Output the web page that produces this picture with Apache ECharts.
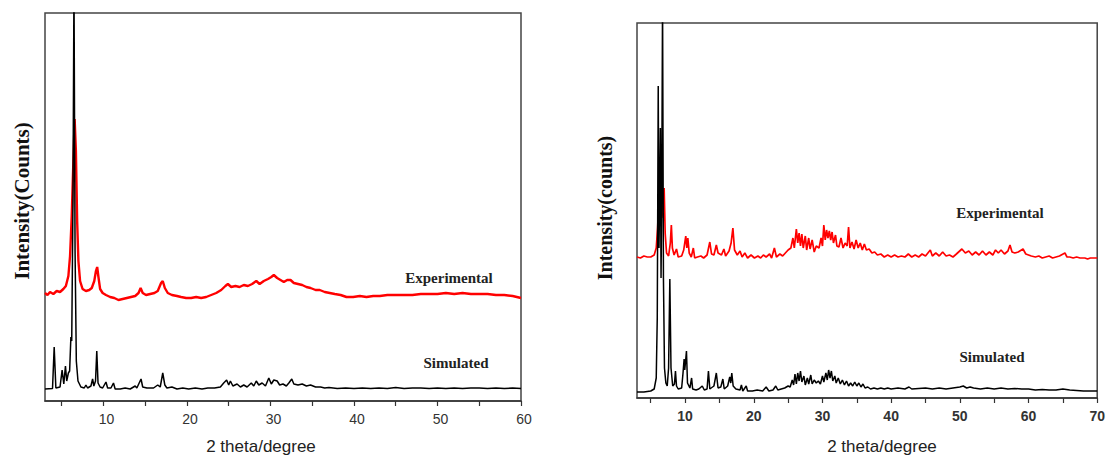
<!DOCTYPE html>
<html><head><meta charset="utf-8">
<script src="https://cdn.jsdelivr.net/npm/echarts@6/dist/echarts.min.js"></script>
<style>html,body{margin:0;padding:0;background:#fff}#c{width:1108px;height:457px}</style>
</head><body><div id="c"></div>
<script>
// ---- Left panel (2theta, relative intensity) ----
const leftTickValues = [5,10,15,20,25,30,35,40,45,50,55,60];
const leftLabelValues = [10,20,30,40,50,60];
const leftSimulated = [[3,12],[3.9,12.5],[4.1,54],[4.3,13],[4.8,14],[5.05,31],[5.25,17],[5.45,35],[5.6,20],[5.8,28],[5.95,30],[6.1,64],[6.2,60],[6.35,200],[6.47,420],[6.6,150],[6.75,40],[6.95,20],[7.3,14],[7.7,13],[7.9,16],[8.1,13],[8.5,15],[8.7,22],[8.85,15],[9.05,20],[9.2,50],[9.35,18],[9.6,14],[9.9,13],[10.3,19],[10.5,13],[10.9,13],[11.2,18],[11.4,12],[12,12],[12.6,13],[13.2,12],[13.8,15],[14.0,13],[14.5,22],[14.7,14],[15.2,13],[16.0,13],[16.5,16],[16.8,14],[17.1,28],[17.35,16],[17.6,13],[18.2,14],[18.8,12],[19.5,13],[20.2,12],[21,13],[21.8,12],[22.5,13],[23.3,13],[24.0,14],[24.4,18],[24.75,21],[25.0,16],[25.2,20],[25.5,15],[26.0,17],[26.4,14],[26.8,16],[27.2,14],[27.7,18],[28.0,15],[28.3,20],[28.6,16],[29.0,18],[29.4,15],[29.8,23],[30.1,17],[30.4,21],[30.8,20],[31.1,16],[31.5,17],[31.9,15],[32.2,18],[32.55,22],[32.8,17],[33.3,16],[33.8,17],[34.3,15],[34.8,16],[35.4,14],[36,14],[36.5,13],[37,13.5],[38,12.5],[39,13],[40,12.5],[41,13],[42,12.5],[43,13],[44,12.5],[45,13.5],[46,12.5],[47,13],[48,13],[49,12.5],[50,13],[51,12.5],[52,13],[53,12.5],[54,13],[55,13],[56,12.5],[57,13],[58,12.5],[59,13],[60,12.5]];
const leftExperimental = [[3,108],[3.3,106],[3.6,109],[4.0,107],[4.4,110],[4.8,109],[5.2,112],[5.5,115],[5.8,125],[6.0,145],[6.2,185],[6.4,240],[6.55,282],[6.7,250],[6.85,180],[7.0,140],[7.2,120],[7.5,112],[7.9,110],[8.3,111],[8.6,113],[8.9,120],[9.1,130],[9.25,134],[9.4,124],[9.6,112],[9.9,108],[10.3,106],[10.8,104],[11.3,103],[11.8,101],[12.3,102],[12.8,103],[13.3,104],[13.8,105],[14.2,108],[14.45,113],[14.7,108],[15.1,106],[15.6,107],[16.1,108],[16.5,110],[16.9,118],[17.1,120],[17.35,113],[17.7,108],[18.2,106],[18.8,105],[19.3,104],[19.9,103],[20.5,103],[21.1,104],[21.7,103],[22.3,104],[22.9,106],[23.5,108],[24.1,111],[24.6,115],[24.9,117],[25.3,114],[25.8,115],[26.3,114],[26.8,116],[27.3,115],[27.8,117],[28.3,120],[28.7,117],[29.2,120],[29.7,122],[30.1,124],[30.4,126],[30.8,123],[31.2,121],[31.6,119],[32.0,121],[32.4,121],[32.8,118],[33.3,117],[33.8,116],[34.3,114],[34.8,113],[35.4,111],[35.9,111],[36.5,109],[37.1,108],[37.7,107],[38.4,106],[39.1,104],[39.9,104],[40.7,105],[41.5,104],[42.3,105],[43.1,105],[44,106],[45,106],[46,106],[47,106],[48,107],[49,107],[50,107],[51,108],[52,107],[53,108],[54,107],[55,107],[56,107],[57,106],[58,106],[59,105],[60,103]];

// ---- Right panel ----
const rightTickValues = [5,10,15,20,25,30,35,40,45,50,55,60,65,70];
const rightLabelValues = [10,20,30,40,50,60,70];
const rightSimulated = [[3,6],[4,6],[5,7],[5.5,9],[5.8,20],[5.95,80],[6.09,312],[6.2,150],[6.3,200],[6.4,270],[6.5,120],[6.6,200],[6.72,400],[6.85,120],[7.0,30],[7.2,15],[7.4,12],[7.6,30],[7.78,119],[7.95,30],[8.2,12],[8.45,14],[8.6,27],[8.75,12],[9.0,9],[9.5,10],[9.7,25],[9.86,39],[9.95,28],[10.05,35],[10.2,47],[10.35,15],[10.7,10],[10.95,20],[11.1,9],[11.6,8],[12.0,9],[12.5,12],[12.8,8],[13.2,9],[13.4,27],[13.6,9],[14.2,12],[14.55,25],[14.8,10],[15.2,11],[15.5,19],[15.7,9],[16.2,12],[16.5,21],[16.65,15],[16.8,25],[17.0,12],[17.4,9],[18.0,8],[18.2,13],[18.4,7],[18.9,12],[19.1,7],[19.8,7],[20.5,8],[21.3,7],[21.8,11],[22.2,7],[22.8,8],[23.2,12],[23.5,8],[24.0,9],[24.5,10],[25.0,12],[25.3,11],[25.6,18],[25.8,13],[26.0,24],[26.2,14],[26.4,25],[26.6,17],[26.8,27],[27.0,16],[27.3,22],[27.5,13],[27.8,20],[28.0,14],[28.3,23],[28.5,14],[28.8,18],[29.1,15],[29.4,17],[29.7,14],[30.0,22],[30.2,16],[30.5,25],[30.7,18],[30.9,28],[31.1,20],[31.3,27],[31.5,17],[31.8,22],[32.0,15],[32.3,20],[32.6,14],[32.9,18],[33.2,13],[33.5,17],[33.8,12],[34.1,15],[34.4,12],[34.7,16],[35.0,12],[35.3,15],[35.6,11],[35.9,14],[36.2,10],[36.6,11],[37.0,9],[37.5,10],[38,9],[38.5,10],[39,9],[39.5,10],[40,9],[41,10],[42,9],[42.6,11],[43,9],[44,9.5],[45,10],[46,9],[47,10],[48,9],[49,10],[50,11],[50.5,12],[51,10],[51.5,11],[52,10],[53,9],[54,10],[55,9],[56,10],[57,9],[58,9.5],[59,9],[60,9],[61,8],[62,8.5],[63,8],[64,8],[65,9],[66,8],[67,7.5],[68,7],[69,7],[70,7]];
const rightExperimental = [[3,141],[3.5,140],[4,142],[4.5,141],[5,141],[5.5,143],[5.8,150],[6.0,170],[6.2,200],[6.43,234],[6.6,180],[6.8,190],[6.95,210],[7.1,165],[7.3,145],[7.6,142],[7.85,155],[8.0,173],[8.15,150],[8.4,143],[8.75,149],[9.0,141],[9.5,142],[9.8,148],[10.1,162],[10.25,150],[10.4,160],[10.6,145],[10.9,141],[11.2,150],[11.4,140],[11.8,141],[12.3,142],[12.7,140],[13.2,143],[13.6,156],[13.85,144],[14.2,143],[14.55,153],[14.8,145],[15.3,143],[15.65,149],[15.9,142],[16.4,147],[16.7,155],[16.96,170],[17.2,148],[17.6,143],[18.0,147],[18.3,141],[18.7,145],[19.1,140],[19.6,143],[20.1,140],[20.6,142],[21.0,140],[21.4,143],[21.8,141],[22.3,144],[22.6,140],[23.0,150],[23.3,141],[23.8,144],[24.2,142],[24.6,145],[25.0,148],[25.4,150],[25.7,160],[25.9,150],[26.2,169],[26.4,155],[26.6,165],[26.8,152],[27.0,164],[27.2,150],[27.5,162],[27.7,148],[28.0,160],[28.2,149],[28.5,158],[28.8,146],[29.1,152],[29.5,150],[29.8,160],[30.0,152],[30.2,173],[30.4,158],[30.6,168],[30.8,160],[31.0,167],[31.2,158],[31.4,166],[31.6,155],[31.9,163],[32.1,152],[32.4,151],[32.7,160],[33.0,150],[33.3,155],[33.6,152],[33.8,171],[34.0,150],[34.3,156],[34.6,149],[34.9,158],[35.2,150],[35.5,155],[35.8,148],[36.1,154],[36.4,148],[36.8,149],[37.2,145],[37.6,146],[38.0,143],[38.5,144],[39.0,141],[39.5,143],[40,141],[40.5,143],[41,141],[41.5,142],[42,141],[42.5,144],[43,141],[43.5,143],[44,141],[44.5,144],[45,142],[45.7,148],[46,142],[46.5,145],[47,142],[47.5,146],[48,142],[48.5,143],[49,141],[49.5,144],[50.3,149],[50.8,145],[51.3,147],[51.8,143],[52.3,146],[52.8,143],[53.3,147],[53.8,143],[54.3,146],[54.8,143],[55.2,148],[55.6,145],[56,148],[56.5,144],[57,147],[57.3,153],[57.6,146],[58,145],[58.5,146],[59.2,149],[59.6,144],[60.0,143],[60.4,142],[61,141],[61.5,142],[62,140],[62.5,141],[63,142],[63.5,140],[64,141],[64.5,142],[65.3,145],[65.6,141],[66,141],[66.5,140],[67,141],[67.5,140],[68.2,140],[68.6,139],[69,140],[69.5,140],[70,140]];

const chart = echarts.init(document.getElementById('c'), null, {renderer: 'svg'});

function xAxisCfg(idx, max, ticks, labels, bold, pad) {
  return {
    gridIndex: idx, type: 'value', min: 3, max: max,
    axisLine: {show: true, onZero: false, lineStyle: {color: '#333', width: 1.5}},
    axisTick: {show: true, inside: false, length: 5, customValues: ticks, lineStyle: {color: '#333', width: 1.2}},
    axisLabel: {customValues: labels, fontSize: 14, color: '#333', margin: 11, padding: pad,
      fontFamily: 'Liberation Sans, Arial, sans-serif', fontWeight: bold ? 'bold' : 'normal',
      showMaxLabel: true, showMinLabel: true},
    splitLine: {show: false}
  };
}
function yAxisCfg(idx, max) {
  return {gridIndex: idx, type: 'value', min: 0, max: max,
    axisLine: {show: false}, axisTick: {show: false}, axisLabel: {show: false}, splitLine: {show: false}};
}
function lineSeries(idx, data, color, w) {
  return {type: 'line', xAxisIndex: idx, yAxisIndex: idx, data: data, showSymbol: false,
    symbol: 'none', clip: true, lineStyle: {color: color, width: w}, silent: true, animation: false};
}
const serif = 'bold 15px "Liberation Serif", "Times New Roman", serif';
chart.setOption({
  animation: false,
  backgroundColor: '#fff',
  grid: [
    {left: 45, top: 13, width: 476, height: 388, show: true, borderColor: '#444', borderWidth: 1.5, backgroundColor: 'transparent'},
    {left: 637, top: 23, width: 462, height: 375, show: true, borderColor: '#444', borderWidth: 1.5, backgroundColor: 'transparent'}
  ],
  xAxis: [xAxisCfg(0, 60, leftTickValues, leftLabelValues, false, [0, 0, 0, 6]), xAxisCfg(1, 70, rightTickValues, rightLabelValues, true, 0)],
  yAxis: [yAxisCfg(0, 388), yAxisCfg(1, 375)],
  series: [
    lineSeries(0, leftExperimental, '#ff0000', 2.4),
    lineSeries(0, leftSimulated, '#000000', 1.5),
    lineSeries(1, rightExperimental, '#ff0000', 1.7),
    lineSeries(1, rightSimulated, '#000000', 1.5)
  ],
  graphic: [
    {type: 'text', x: 22, y: 201, rotation: Math.PI / 2, style: {text: 'Intensity(Counts)', font: 'bold 21px "Liberation Serif", "Times New Roman", serif', fill: '#111', align: 'center', verticalAlign: 'middle'}},
    {type: 'text', x: 605, y: 208, rotation: Math.PI / 2, style: {text: 'Intensity(counts)', font: 'bold 20px "Liberation Serif", "Times New Roman", serif', fill: '#111', align: 'center', verticalAlign: 'middle'}},
    {type: 'text', x: 261, y: 446, style: {text: '2 theta/degree', font: '17px "Liberation Sans", Arial, sans-serif', fill: '#222', align: 'center', verticalAlign: 'middle'}},
    {type: 'text', x: 882, y: 446, style: {text: '2 theta/degree', font: '17px "Liberation Sans", Arial, sans-serif', fill: '#222', align: 'center', verticalAlign: 'middle'}},
    {type: 'text', x: 449, y: 278, style: {text: 'Experimental', font: serif, fill: '#222', align: 'center', verticalAlign: 'middle'}},
    {type: 'text', x: 456, y: 363, style: {text: 'Simulated', font: serif, fill: '#222', align: 'center', verticalAlign: 'middle'}},
    {type: 'text', x: 1000, y: 213, style: {text: 'Experimental', font: serif, fill: '#222', align: 'center', verticalAlign: 'middle'}},
    {type: 'text', x: 992, y: 357, style: {text: 'Simulated', font: serif, fill: '#222', align: 'center', verticalAlign: 'middle'}}
  ]
});
</script>
</body></html>
